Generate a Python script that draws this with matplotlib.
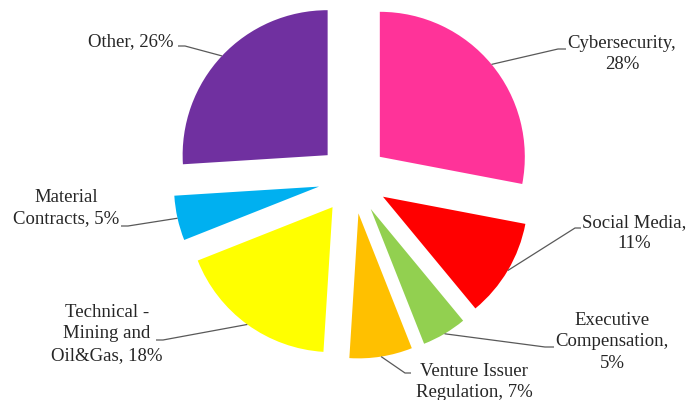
import matplotlib
matplotlib.use("Agg")
import matplotlib.pyplot as plt
import numpy as np

categories = ["Cybersecurity", "Social Media", "Executive Compensation",
              "Venture Issuer Regulation", "Technical - Mining and Oil&Gas",
              "Material Contracts", "Other"]
values = [28, 11, 5, 7, 18, 5, 26]
label_texts = ["Cybersecurity,\n28%", "Social Media,\n11%",
               "Executive\nCompensation,\n5%", "Venture Issuer\nRegulation, 7%",
               "Technical -\nMining and\nOil&Gas, 18%", "Material\nContracts, 5%",
               "Other, 26%"]
colors = ["#FF3399", "#FF0000", "#92D050", "#FFC000", "#FFFF00", "#00B0F0", "#7030A0"]

plt.rcParams['font.family'] = ['Liberation Serif', 'DejaVu Serif']

W, H = 690, 400
CX, CY, R = 353, 179, 145  # pixel centre / radius
fig = plt.figure(figsize=(W / 100, H / 100), dpi=100)
ax = fig.add_axes([0, 0, 1, 1])

explode = [0.24] * len(values)
wedges, _ = ax.pie(values, colors=colors, explode=explode, startangle=90,
                   counterclock=False, radius=1, wedgeprops=dict(linewidth=0))

ax.set_xlim(-CX / R, (W - CX) / R)
ax.set_ylim(-(H - CY) / R, CY / R)
ax.set_aspect('equal')
ax.axis('off')


def px(x, y):
    return ((x - CX) / R, (CY - y) / R)


# label placement (pixel coords): text position, alignment, elbow, line end
layout = [
    dict(text=(622, 54), ha='center', elbow=(558, 49), end=(566, 49)),
    dict(text=(634, 233), ha='center', elbow=(575, 228), end=(581, 228)),
    dict(text=(612, 342), ha='center', elbow=(545, 347), end=(554, 347)),
    dict(text=(474, 382), ha='center', elbow=(405, 373), end=(411, 373)),
    dict(text=(107, 334), ha='center', elbow=(163, 340), end=(156, 340)),
    dict(text=(66, 208), ha='center', elbow=(128, 226), end=(121, 226)),
    dict(text=(131, 42), ha='center', elbow=(185, 46), end=(178, 46)),
]

for w, lab, lay in zip(wedges, label_texts, layout):
    mid = np.deg2rad((w.theta1 + w.theta2) / 2)
    cx, cy = w.center
    ax_, ay_ = cx + w.r * np.cos(mid), cy + w.r * np.sin(mid)
    ex, ey = px(*lay['elbow'])
    nx, ny = px(*lay['end'])
    ax.plot([ax_, ex, nx], [ay_, ey, ny], color="#595959", lw=0.9,
            solid_capstyle='butt')
    tx, ty = px(*lay['text'])
    ax.text(tx, ty, lab, ha=lay['ha'], va='center', fontsize=13.5,
            color="#262626", linespacing=1.36)

fig.savefig("out.png", dpi=100)
